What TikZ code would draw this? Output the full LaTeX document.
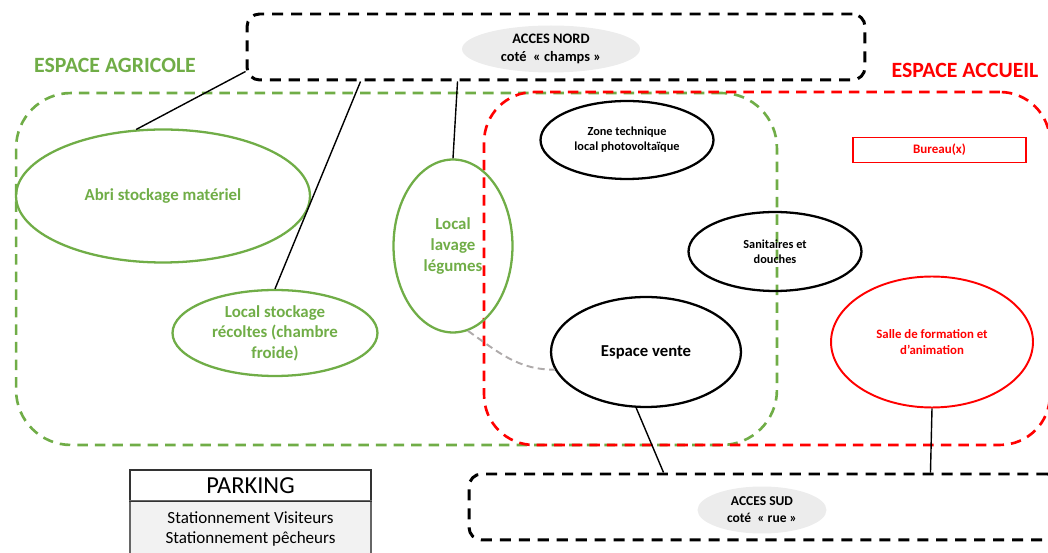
\documentclass[tikz,border=0pt]{standalone}
\usepackage{fontspec}
\setmainfont{Carlito}
\usepackage{xcolor}
\usetikzlibrary{shapes}
\usetikzlibrary{arrows}
\definecolor{vert}{RGB}{112,173,71}
\definecolor{rouge}{RGB}{255,0,0}
\definecolor{grisclair}{RGB}{236,236,236}
\definecolor{grisfond}{RGB}{242,242,242}
\definecolor{grislien}{RGB}{175,171,171}
\tikzset{
	zone box/.style={draw,line width=1.5pt,dash pattern=on 6pt off 4pt,rounded corners=1.1cm,inner sep=0pt},
	acces box/.style={draw=black,line width=1.7pt,dash pattern=on 6.3pt off 4.5pt,rounded corners=0.25cm,inner sep=0pt},
	acces node/.style={ellipse,fill=grisclair,inner sep=0pt,align=center,font=\fontsize{8.2}{10.2}\selectfont\bfseries},
	green node/.style={ellipse,draw=vert,line width=1.3pt,text=vert,inner sep=0pt,align=center,font=\fontsize{9.6}{11.7}\selectfont\bfseries},
	black node/.style={ellipse,draw=black,line width=1.3pt,inner sep=0pt,align=center,font=\fontsize{7}{8.6}\selectfont\bfseries},
	titre/.style={font=\fontsize{12.4}{14}\selectfont\bfseries}
}

\begin{document}
\begin{tikzpicture}[x=0.02cm,y=-0.02cm,link/.style={black,line width=0.8pt}]
      \useasboundingbox (0,0) rectangle (1048,553);

      % grandes zones
      \node[zone box,draw=vert,minimum width=15.22cm,minimum height=7.04cm] (agri) at (396.5,269) {};
      \node[zone box,draw=rouge,rounded corners=1cm,minimum width=11.32cm,minimum height=7.06cm] (accueil) at (767,268.5) {};
      \node[titre,text=vert] (ta) at (115,65) {ESPACE AGRICOLE};
      \node[titre,text=rouge] (tb) at (965,70) {ESPACE ACCUEIL};

      % acces
      \node[acces box,minimum width=12.36cm,minimum height=1.32cm] (nord) at (556,47) {};
      \node[acces node,minimum width=3.56cm,minimum height=0.94cm] (an) at (551,49) {ACCES NORD\\coté~~« champs »};
      \node[acces box,minimum width=11.82cm,minimum height=1.32cm] (sud) at (764.5,507) {};
      \node[acces node,minimum width=2.58cm,minimum height=0.94cm,font=\fontsize{7.7}{9.6}\selectfont\bfseries] (as) at (762,510) {ACCES SUD\\coté~~« rue »};

      % espace agricole
      \node[green node,minimum width=5.88cm,minimum height=2.66cm] (1) at (163,196) {Abri stockage matériel};
      \node[green node,minimum width=4.1cm,minimum height=1.72cm] (2) at (275,333) {Local stockage\\récoltes (chambre\\froide)};
      \node[green node,minimum width=2.38cm,minimum height=3.46cm] (3) at (453,246) {Local\\lavage\\légumes};

      % espace accueil
      \node[black node,minimum width=3.46cm,minimum height=1.56cm] (4) at (627,140) {Zone technique\\local photovoltaïque};
      \node[black node,minimum width=3.46cm,minimum height=1.58cm] (5) at (775,251.5) {Sanitaires et\\douches};
      \node[black node,minimum width=3.8cm,minimum height=2.2cm,font=\fontsize{9.5}{11}\selectfont\bfseries] (6) at (646,352) {Espace vente};
      \node[draw=rouge,line width=1.1pt,text=rouge,minimum width=3.46cm,minimum height=0.5cm,inner sep=0pt,font=\fontsize{7.4}{8.8}\selectfont\bfseries] (7) at (939.5,150) {Bureau(x)};
      \node[black node,draw=rouge,text=rouge,line width=1.1pt,minimum width=4.04cm,minimum height=2.62cm,font=\fontsize{7.3}{8.8}\selectfont\bfseries] (8) at (932,342) {Salle de formation et\\d’animation};

      % parking
      \node[draw=black!80,line width=0.6pt,minimum width=4.82cm,minimum height=0.62cm,inner sep=0pt,font=\fontsize{13.9}{16}\selectfont] (9) at (250.5,485.5) {PARKING};
      \node[draw=black!60,fill=grisfond,line width=0.6pt,minimum width=4.82cm,minimum height=1.12cm,inner sep=0pt,align=center,font=\fontsize{9.7}{11.4}\selectfont] (10) at (250.5,529) {Stationnement Visiteurs\\Stationnement pêcheurs};
      \draw[black!80,line width=1pt] (9.south west) -- (9.south east);

      \path[link]
        ([yshift=0.2cm]nord.south west) edge (1.112)
        ([xshift=2.3cm]nord.south west) edge (2.north)
        ([xshift=4.24cm]nord.south west) edge (3.north)
        (6.-100) edge ([xshift=3.92cm]sud.north west)
        (8.south) edge ([xshift=9.26cm]sud.north west);
      \draw[grislien,line width=1.1pt,dash pattern=on 4pt off 2.5pt] (3.-80) to[out=-35,in=180] (6.191);
\end{tikzpicture}
\end{document}
